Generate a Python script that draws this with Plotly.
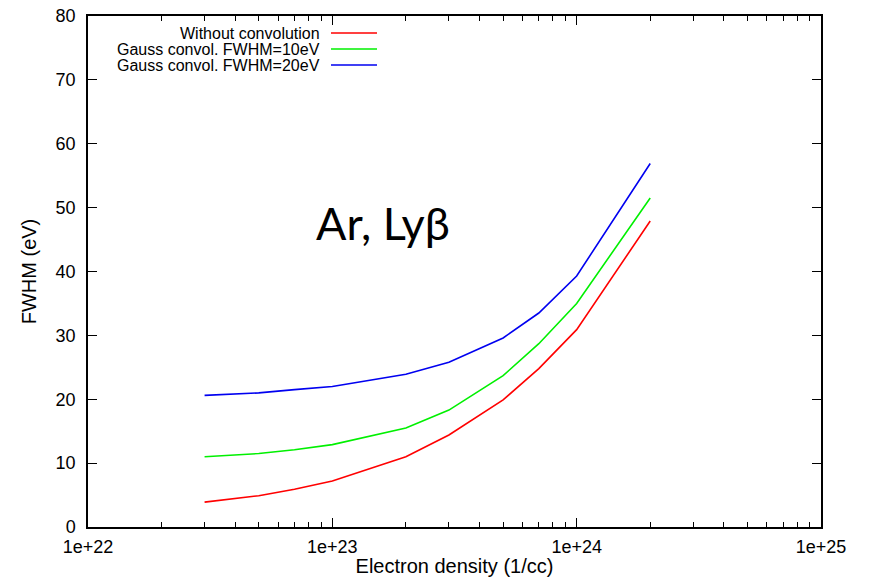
import plotly.graph_objects as go

density = [3e22, 5e22, 7e22, 1e23, 2e23, 3e23, 5e23, 7e23, 1e24, 2e24]
fwhm_none = [3.9, 4.9, 5.9, 7.2, 11.0, 14.4, 19.9, 24.8, 30.9, 47.9]
fwhm_g10 = [11.0, 11.5, 12.1, 12.9, 15.5, 18.3, 23.7, 28.7, 35.0, 51.5]
fwhm_g20 = [20.6, 21.0, 21.5, 22.0, 23.9, 25.8, 29.6, 33.5, 39.3, 56.9]

series_names = ["Without convolution", "Gauss convol. FWHM=10eV", "Gauss convol. FWHM=20eV"]
series_colors = ["#ff0000", "#00f000", "#0000f0"]
series_values = [fwhm_none, fwhm_g10, fwhm_g20]

x_tickvals = [1e22, 1e23, 1e24, 1e25]
x_ticktext = ["1e+22", "1e+23", "1e+24", "1e+25"]
x_minor = [float(m) * 10.0 ** e for e in (22, 23, 24) for m in range(2, 10)]

FONT = "Liberation Sans, Arial, sans-serif"

fig = go.Figure()
for name, col, vals in zip(series_names, series_colors, series_values):
    fig.add_trace(go.Scatter(x=density, y=vals, mode="lines", name=name,
                             line=dict(color=col, width=1.6), showlegend=False))

# gnuplot-style legend: right-aligned text followed by a line sample
L, R, T, B = 88, 821, 16, 527
def px(xp):
    return (xp - L) / (R - L)
def py(yp):
    return (B - yp) / (B - T)

for i, (name, col) in enumerate(zip(series_names, series_colors)):
    yy = 33 + 16 * i
    fig.add_annotation(x=px(322), y=py(yy), xref="paper", yref="paper",
                       text=name, showarrow=False, xanchor="right", yanchor="middle",
                       font=dict(family=FONT, size=16, color="black"))
    fig.add_shape(type="line", xref="paper", yref="paper",
                  x0=px(331), x1=px(377), y0=py(yy), y1=py(yy),
                  line=dict(color=col, width=1.6))

fig.add_annotation(x=px(383), y=py(223), xref="paper", yref="paper",
                   text="Ar, Lyβ", showarrow=False, xanchor="center", yanchor="middle",
                   font=dict(family="Lato, Open Sans, sans-serif", size=45, color="black"))

fig.update_layout(
    width=869, height=577,
    margin=dict(l=L, r=869 - R, t=T, b=577 - B),
    paper_bgcolor="white", plot_bgcolor="white",
    font=dict(family=FONT, size=18, color="black"),
    xaxis=dict(type="log", range=[22, 25], tickmode="array", tickvals=x_tickvals,
               ticktext=x_ticktext, ticks="inside", ticklen=9, tickwidth=1,
               tickcolor="black", showline=True, linecolor="black", linewidth=1.5,
               mirror="ticks", showgrid=False, zeroline=False, automargin=False,
               minor=dict(tickmode="array", tickvals=x_minor, ticks="inside",
                          ticklen=5, tickcolor="black", showgrid=False),
               tickfont=dict(size=18), ticklabelstandoff=3,
               title=dict(text="Electron density (1/cc)", font=dict(size=20), standoff=1)),
    yaxis=dict(range=[0, 80], dtick=10, ticks="inside", ticklen=9, tickwidth=1,
               tickcolor="black", showline=True, linecolor="black", linewidth=1.5,
               mirror="ticks", showgrid=False, zeroline=False, automargin=False,
               tickfont=dict(size=18), ticklabelstandoff=7,
               title=dict(text="FWHM (eV)", font=dict(size=20), standoff=14)),
)

fig.write_html("out.html")
